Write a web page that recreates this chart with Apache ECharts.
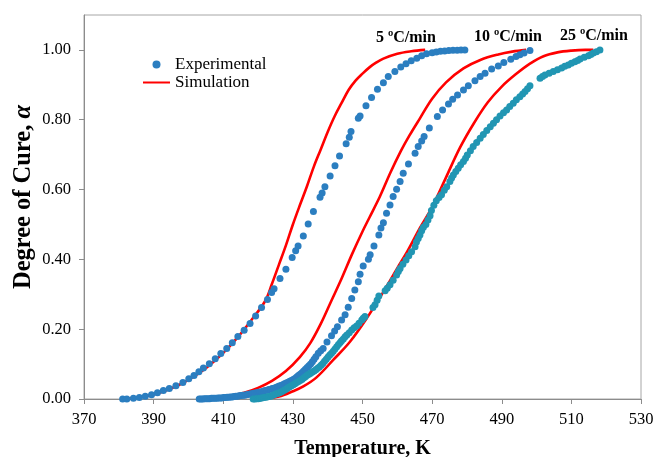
<!DOCTYPE html>
<html>
<head>
<meta charset="utf-8">
<title>Degree of Cure vs Temperature</title>
<script src="https://cdn.jsdelivr.net/npm/echarts@6/dist/echarts.min.js"></script>
<style>
  html, body { margin: 0; padding: 0; background: #fff; }
  #chart { width: 655px; height: 457px; }
</style>
</head>
<body>
<div id="chart"></div>
<script>
// Heating rates shown in the chart
const rateLabels = ['5 ºC/min', '10 ºC/min', '25 ºC/min'];

// Tick values on the axes
const xTicks = [370, 390, 410, 430, 450, 470, 490, 510, 530];
const yTicks = [0, 0.2, 0.4, 0.6, 0.8, 1.0];

// Experimental conversion, [temperature K, alpha]
const exp5 = [
  [381.1,0.000],[382.3,0.000],[384.2,0.002],[385.9,0.004],[387.6,0.008],[389.4,0.012],
  [391.1,0.018],[392.8,0.024],[394.5,0.030],[396.4,0.038],[398.4,0.047],[400.1,0.058],
  [401.6,0.067],[403.0,0.078],[404.3,0.089],[406.0,0.101],[407.7,0.115],[409.3,0.130],
  [411.0,0.145],[412.6,0.161],[414.2,0.179],[416.0,0.197],[417.7,0.216],[419.3,0.238],
  [421.0,0.262],[422.7,0.285],[423.9,0.305],[424.6,0.316],[426.3,0.345],[428.0,0.372],
  [429.8,0.405],[430.8,0.425],[431.5,0.438],[433.0,0.467],[434.4,0.501],[435.9,0.537],
  [437.8,0.578],[438.4,0.590],[439.2,0.608],[440.7,0.639],[442.1,0.668],[443.4,0.696],
  [445.3,0.731],[446.2,0.750],[446.7,0.766],[448.8,0.804],[449.3,0.811],[451.0,0.840],
  [452.6,0.864],[454.3,0.887],[456.0,0.906],[457.4,0.924],[459.3,0.938],[461.0,0.951],
  [462.5,0.960],[464.0,0.969],[465.6,0.976],[467.0,0.983],[468.4,0.989],[470.0,0.992],
  [471.2,0.994],[472.4,0.996],[473.6,0.997],[474.8,0.998],[476.0,0.999],[477.2,0.999],
  [478.3,1.000],[479.4,1.000]
];

const exp10 = [
  [403.1,0.000],[403.6,0.000],[404.1,0.000],[404.6,0.001],[405.1,0.001],[405.6,0.001],
  [406.1,0.001],[406.6,0.002],[407.1,0.002],[407.6,0.002],[408.1,0.002],[408.6,0.003],
  [409.1,0.003],[409.6,0.003],[410.1,0.004],[410.6,0.004],[411.1,0.005],[411.6,0.005],
  [412.1,0.006],[412.6,0.006],[413.1,0.007],[413.6,0.008],[414.1,0.008],[414.6,0.009],
  [415.1,0.010],[415.6,0.011],[416.1,0.011],[416.6,0.012],[417.1,0.013],[417.6,0.014],
  [418.1,0.015],[418.6,0.016],[419.1,0.017],[419.6,0.018],[420.1,0.019],[420.6,0.020],
  [421.1,0.021],[421.6,0.023],[422.1,0.024],[422.6,0.025],[423.1,0.027],[423.6,0.028],
  [424.1,0.030],[424.6,0.031],[425.1,0.033],[425.6,0.035],[426.1,0.037],[426.6,0.039],
  [427.1,0.041],[427.6,0.044],[428.1,0.046],[428.6,0.048],[429.1,0.051],[429.6,0.053],
  [430.1,0.056],[430.6,0.059],[431.1,0.063],[431.6,0.067],[432.1,0.071],[432.6,0.075],
  [433.1,0.080],[433.6,0.085],[434.1,0.090],[434.6,0.095],[435.1,0.100],[435.6,0.107],
  [436.1,0.114],[436.6,0.121],[437.3,0.131],[438.0,0.138],[438.7,0.145],[439.8,0.163],
  [441.1,0.181],[442.0,0.195],[442.8,0.207],[444.0,0.226],[445.0,0.241],[445.9,0.263],
  [446.9,0.288],[447.8,0.312],[448.8,0.336],[449.3,0.357],[450.2,0.381],[451.7,0.400],
  [452.2,0.413],[453.3,0.438],[454.7,0.470],[455.3,0.490],[456.0,0.505],[456.9,0.532],
  [457.9,0.556],[458.8,0.580],[459.8,0.601],[460.8,0.623],[461.7,0.647],[463.2,0.673],
  [465.1,0.704],[466.0,0.723],[467.0,0.739],[467.7,0.752],[469.2,0.776],[471.5,0.809],
  [473.0,0.828],[474.7,0.845],[475.9,0.859],[477.3,0.871],[479.0,0.885],[480.4,0.897],
  [482.3,0.912],[483.8,0.924],[485.2,0.933],[487.1,0.945],[489.0,0.954],[490.6,0.964],
  [492.6,0.973],[494.1,0.981],[495.2,0.986],[496.4,0.991],[498.1,0.998]
];

const exp25 = [
  [418.6,0.000],[419.1,0.000],[419.6,0.001],[420.1,0.001],[420.6,0.002],[421.1,0.003],
  [421.6,0.004],[422.1,0.005],[422.6,0.006],[423.1,0.007],[423.6,0.008],[424.1,0.010],
  [424.6,0.012],[425.1,0.014],[425.6,0.016],[426.1,0.018],[426.6,0.020],[427.1,0.023],
  [427.6,0.026],[428.1,0.029],[428.6,0.032],[429.1,0.035],[429.6,0.038],[430.1,0.041],
  [430.6,0.044],[431.1,0.047],[431.6,0.050],[432.1,0.053],[432.6,0.056],[433.1,0.060],
  [433.6,0.064],[434.1,0.068],[434.6,0.071],[435.1,0.074],[435.6,0.077],[436.1,0.080],
  [436.6,0.084],[437.1,0.088],[437.6,0.092],[438.1,0.097],[438.6,0.102],[439.1,0.108],
  [439.6,0.114],[440.1,0.120],[440.6,0.126],[441.1,0.131],[441.6,0.137],[442.1,0.143],
  [442.6,0.150],[443.1,0.156],[443.6,0.162],[444.0,0.167],[444.5,0.172],[445.0,0.178],
  [445.5,0.183],[446.2,0.190],[446.9,0.198],[447.6,0.204],[448.3,0.209],[449.0,0.217],
  [449.8,0.226],[450.2,0.231],[450.7,0.236],[453.0,0.262],[453.6,0.270],[454.2,0.283],
  [454.7,0.295],[456.5,0.310],[457.1,0.317],[457.9,0.327],[458.8,0.340],[459.8,0.355],
  [460.3,0.365],[460.8,0.374],[461.6,0.386],[462.5,0.398],[463.3,0.410],[464.1,0.422],
  [465.1,0.436],[465.5,0.450],[466.0,0.460],[466.5,0.470],[467.0,0.482],[467.5,0.492],
  [468.2,0.500],[468.8,0.513],[469.4,0.525],[469.8,0.540],[470.5,0.555],[471.2,0.568],
  [472.0,0.577],[472.7,0.585],[473.5,0.598],[474.2,0.608],[475.1,0.623],[475.6,0.633],
  [476.1,0.642],[476.8,0.652],[477.5,0.661],[478.2,0.671],[479.0,0.680],[479.6,0.690],
  [480.1,0.699],[481.0,0.711],[481.8,0.723],[482.8,0.735],[483.8,0.747],[484.7,0.758],
  [485.7,0.769],[486.7,0.780],[487.6,0.790],[488.5,0.800],[489.5,0.811],[490.5,0.820],
  [491.4,0.828],[492.3,0.838],[493.3,0.847],[494.2,0.857],[495.2,0.866],[496.0,0.874],
  [496.7,0.881],[497.4,0.889],[498.1,0.897],[501.0,0.919],[501.7,0.924],[502.4,0.928],
  [503.6,0.933],[504.8,0.938],[506.0,0.943],[507.2,0.948],[508.1,0.953],[509.1,0.957],
  [510.0,0.962],[511.0,0.966],[511.8,0.970],[512.5,0.974],[513.7,0.979],[514.9,0.983],
  [515.6,0.987],[516.3,0.991],[517.2,0.995],[518.2,1.000]
];

// Model predictions, [temperature K, alpha]
const sim5 = [
  [381,0],[385,0.004],[390,0.013],[395,0.030],[400,0.055],[405,0.088],[410,0.132],
  [414,0.175],[418,0.225],[422,0.280],[424,0.330],[426,0.385],[428,0.440],[430,0.500],
  [432,0.555],[434,0.608],[436,0.665],[438,0.715],[440,0.765],[442,0.810],[444,0.848],
  [446,0.885],[448,0.912],[450,0.932],[452,0.950],[454,0.964],[456,0.975],[460,0.989],
  [464,0.996],[468,1.000]
];

const sim10 = [
  [403,0],[408,0.003],[412,0.009],[416,0.018],[420,0.032],[424,0.052],[428,0.080],
  [432,0.120],[435,0.160],[438,0.215],[441,0.280],[444,0.345],[447,0.415],[450,0.480],
  [452,0.520],[455,0.580],[458,0.648],[461,0.710],[463.5,0.755],[466.5,0.804],[470,0.860],
  [474,0.907],[479,0.947],[484,0.972],[489,0.987],[493,0.995],[497,1.000]
];

const sim25 = [
  [418,0],[422,0.002],[426,0.007],[430,0.022],[433,0.036],[436.8,0.062],[441.6,0.112],
  [446.4,0.164],[451.2,0.231],[456,0.307],[460,0.375],[463,0.425],[466.5,0.490],
  [470,0.550],[474,0.635],[478,0.720],[482,0.790],[486,0.850],[490,0.895],[494,0.930],
  [498,0.960],[502,0.982],[506,0.993],[510,0.998],[514,1.000],[516.3,1.000]
];

const SERIF = '"Liberation Serif", "Times New Roman", "DejaVu Serif", serif';
const BLUE = '#2B7EC0';
const TEAL = '#2196B3';
const RED = '#FF0000';
const AXIS_GREY = '#8C8C8C';

const chart = echarts.init(document.getElementById('chart'), null, { renderer: 'canvas' });

function simLine(data) {
  return {
    name: 'Simulation',
    type: 'line',
    data: data,
    smooth: 0.35,
    symbol: 'none',
    showSymbol: false,
    lineStyle: { color: RED, width: 2.6 },
    itemStyle: { color: RED },
    z: 2,
    animation: false
  };
}

function expDots(data, color) {
  return {
    name: 'Experimental',
    type: 'scatter',
    data: data,
    symbol: 'circle',
    symbolSize: 7,
    itemStyle: { color: color, opacity: 1 },
    z: 3,
    animation: false
  };
}

const option = {
  backgroundColor: '#ffffff',
  animation: false,
  grid: {
    left: 84, right: 14, top: 15, bottom: 58,
    containLabel: false,
    outerBoundsMode: 'none',
    show: true, borderColor: '#A6A6A6', borderWidth: 1, backgroundColor: 'transparent'
  },
  legend: {
    orient: 'vertical',
    left: 142,
    top: 56,
    padding: 0,
    itemWidth: 27,
    itemHeight: 8,
    itemGap: 1,
    textStyle: { fontFamily: SERIF, fontSize: 17, color: '#000' },
    data: [
      { name: 'Experimental', icon: 'circle', itemStyle: { color: BLUE } },
      { name: 'Simulation', itemStyle: { opacity: 0 } }
    ]
  },
  xAxis: {
    type: 'value',
    min: 370, max: 530, interval: 20,
    name: 'Temperature, K',
    nameLocation: 'middle',
    nameGap: 40,
    nameTextStyle: { fontFamily: SERIF, fontSize: 20, fontWeight: 'bold', color: '#000' },
    axisLine: { show: true, lineStyle: { color: AXIS_GREY, width: 1 } },
    axisTick: { show: true, length: 5, lineStyle: { color: AXIS_GREY }, customValues: xTicks },
    axisLabel: {
      margin: 12, fontFamily: SERIF, fontSize: 16.5, color: '#000',
      customValues: xTicks,
      formatter: v => String(v)
    },
    splitLine: { show: false }
  },
  yAxis: {
    type: 'value',
    min: 0, max: 1.1, interval: 0.2,
    name: '{t|Degree of Cure, }{a|α}',
    nameLocation: 'middle',
    nameGap: 48,
    nameMoveOverlap: false,
    nameTextStyle: {
      padding: [0, 0, 0, 20],
      rich: {
        t: { fontFamily: SERIF, fontSize: 24.5, fontWeight: 'bold', color: '#000' },
        a: { fontFamily: SERIF, fontSize: 24.5, fontWeight: 'bold', fontStyle: 'italic', color: '#000' }
      }
    },
    axisLine: { show: true, lineStyle: { color: AXIS_GREY, width: 1 } },
    axisTick: { show: true, length: 5, lineStyle: { color: AXIS_GREY }, customValues: yTicks },
    axisLabel: {
      margin: 13, fontFamily: SERIF, fontSize: 16.5, color: '#000',
      customValues: yTicks,
      formatter: v => v.toFixed(2)
    },
    splitLine: { show: false }
  },
  graphic: [
    { type: 'text', left: 376, top: 30, style: { text: rateLabels[0], fontFamily: SERIF, fontSize: 16, fontWeight: 'bold', fill: '#000' } },
    { type: 'text', left: 474, top: 29, style: { text: rateLabels[1], fontFamily: SERIF, fontSize: 16, fontWeight: 'bold', fill: '#000' } },
    { type: 'text', left: 560, top: 28, style: { text: rateLabels[2], fontFamily: SERIF, fontSize: 16, fontWeight: 'bold', fill: '#000' } }
  ],
  series: [
    simLine(sim5),
    simLine(sim10),
    simLine(sim25),
    expDots(exp5, BLUE),
    expDots(exp10, BLUE),
    expDots(exp25, TEAL)
  ]
};

chart.setOption(option);
</script>
</body>
</html>
